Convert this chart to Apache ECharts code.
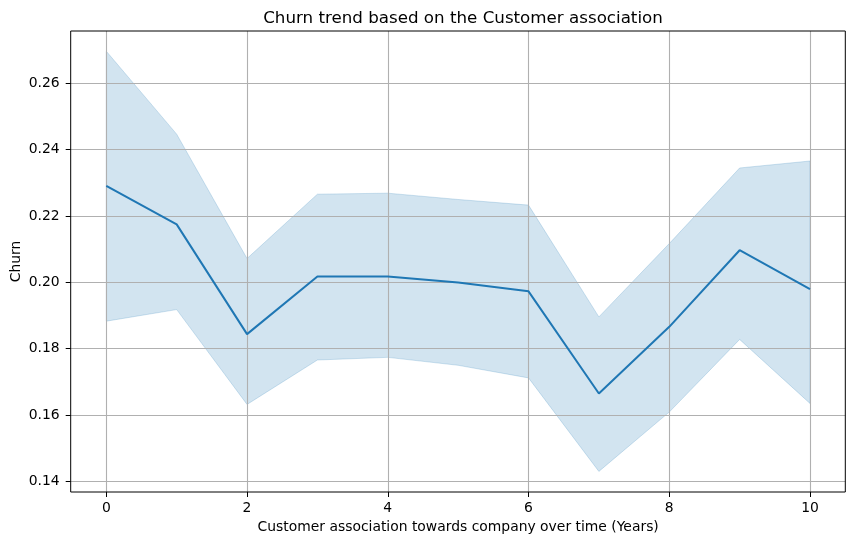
<!DOCTYPE html>
<html>
<head>
<meta charset="utf-8">
<script src="https://cdn.jsdelivr.net/npm/echarts@6/dist/echarts.min.js"></script>
<style>
html,body{margin:0;padding:0;background:#fff;}
#chart{width:855px;height:545px;}
</style>
</head>
<body>
<div id="chart"></div>
<script>
const years = [0, 1, 2, 3, 4, 5, 6, 7, 8, 9, 10];
const churnMean  = [0.2291, 0.2175, 0.1844, 0.2018, 0.2018, 0.2000, 0.1973, 0.1665, 0.1866, 0.2097, 0.1980];
const churnUpper = [0.2697, 0.2447, 0.2072, 0.2266, 0.2269, 0.2250, 0.2233, 0.1896, 0.2117, 0.2345, 0.2366];
const churnLower = [0.1883, 0.1918, 0.1632, 0.1766, 0.1774, 0.1750, 0.1712, 0.1430, 0.1609, 0.1828, 0.1635];
const xTicks = [0, 2, 4, 6, 8, 10];
const yTicks = [0.14, 0.16, 0.18, 0.20, 0.22, 0.24, 0.26];

const FONT = 'DejaVu Sans';
const lineColor = '#1f77b4';
const bandColor = 'rgba(31,119,180,0.2)';
const gridColor = '#b0b0b0';

const chart = echarts.init(document.getElementById('chart'));
const option = {
  animation: false,
  backgroundColor: '#fff',
  title: {
    text: 'Churn trend based on the Customer association',
    left: 458, top: 5, textAlign: 'center',
    textStyle: { fontFamily: FONT, fontSize: 16.7, fontWeight: 'normal', color: '#000' }
  },
  grid: [
    { left: 70.7, right: 9.7, top: 31, bottom: 53, show: true, borderColor: '#000', borderWidth: 1, backgroundColor: 'transparent', z: 4 },
    { left: 106.3, right: 45, top: 31, bottom: 53 },
    { left: 70.7, right: 9.7, top: 83.3, bottom: 63.7 }
  ],
  xAxis: [
    { gridIndex: 0, type: 'value', min: 0, max: 1, show: false },
    { gridIndex: 1, type: 'value', min: xTicks[0], max: xTicks[xTicks.length - 1], interval: 2, z: 2,
      axisLine: { show: false },
      axisTick: { show: true, inside: false, length: 5, lineStyle: { color: '#000', width: 1 } },
      axisLabel: { margin: 9, fontFamily: FONT, fontSize: 13.9, color: '#000' },
      splitLine: { show: true, lineStyle: { color: gridColor, width: 1.1 } },
      name: 'Customer association towards company over time (Years)',
      nameLocation: 'middle', nameGap: 28,
      nameTextStyle: { fontFamily: FONT, fontSize: 13.9, color: '#000' }
    },
    { gridIndex: 2, type: 'value', min: 0, max: 1, show: false }
  ],
  yAxis: [
    { gridIndex: 0, type: 'value', min: 0, max: 1, show: true,
      axisLine: { show: false }, axisTick: { show: false }, axisLabel: { show: false }, splitLine: { show: false },
      name: 'Churn', nameLocation: 'middle', nameGap: 47,
      nameTextStyle: { fontFamily: FONT, fontSize: 13.9, color: '#000' }
    },
    { gridIndex: 1, type: 'value', min: 0.1368, max: 0.2758, show: false },
    { gridIndex: 2, type: 'value', min: yTicks[0], max: yTicks[yTicks.length - 1], interval: 0.02, z: 2,
      axisLine: { show: false },
      axisTick: { show: true, inside: false, length: 5, lineStyle: { color: '#000', width: 1 } },
      axisLabel: { margin: 11, fontFamily: FONT, fontSize: 13.9, color: '#000', formatter: v => v.toFixed(2) },
      splitLine: { show: true, lineStyle: { color: gridColor, width: 1.1 } }
    }
  ],
  series: [
    { type: 'custom', xAxisIndex: 1, yAxisIndex: 1, z: 1,
      data: years.map((x, i) => [x, churnLower[i], churnUpper[i]]),
      renderItem: function (params, api) {
        if (params.dataIndex !== 0) return null;
        const up = years.map((x, i) => api.coord([x, churnUpper[i]]));
        const lo = years.map((x, i) => api.coord([x, churnLower[i]]));
        const poly = up.concat(lo.slice().reverse());
        return {
          type: 'group',
          children: [
            { type: 'polygon', shape: { points: poly }, style: { fill: bandColor, stroke: bandColor, lineWidth: 1 } }
          ]
        };
      }
    },
    { type: 'line', xAxisIndex: 1, yAxisIndex: 1, symbol: 'none',
      data: years.map((x, i) => [x, churnMean[i]]),
      lineStyle: { color: lineColor, width: 2 }, z: 3 }
  ]
};
chart.setOption(option);
</script>
</body>
</html>
